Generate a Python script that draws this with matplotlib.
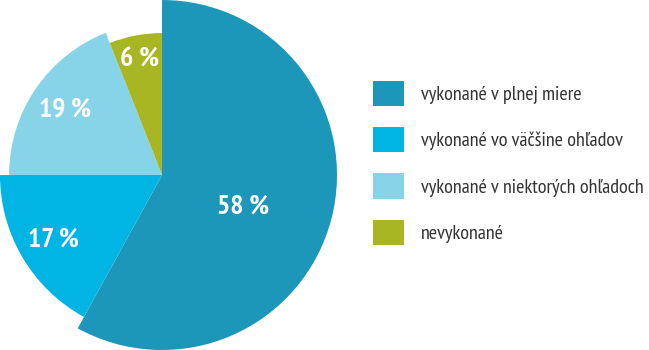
import matplotlib
matplotlib.use("Agg")
import matplotlib.pyplot as plt
import numpy as np

categories = ["vykonané v plnej miere", "vykonané vo väčšine ohľadov",
              "vykonané v niektorých ohľadoch", "nevykonané"]
values = [58, 17, 19, 6]
radii = [1.0, 0.926, 0.874, 0.811]
colors = ["#1c97b9", "#00b4e3", "#87d3e8", "#a9b623"]
label_dist = [0.5, 0.72, 0.67, 0.67]
label_angle_shift = [-7, 0, 0, 0]

plt.rcParams["font.family"] = ["PT Sans Narrow", "DejaVu Sans"]

fig = plt.figure(figsize=(6.49, 3.5), dpi=100)
ax = fig.add_axes([-13 / 649, 0, 350 / 649, 1])
wedges, _ = ax.pie(values, colors=colors, startangle=90, counterclock=False,
                   radius=1.0, wedgeprops=dict(linewidth=0))
for w, r in zip(wedges, radii):
    w.set_radius(r)
ax.set_xlim(-1, 1)
ax.set_ylim(-1, 1)
ax.set_aspect("equal")
ax.axis("off")

for w, v, d, s in zip(wedges, values, label_dist, label_angle_shift):
    ang = np.deg2rad((w.theta1 + w.theta2) / 2 + s)
    ax.text(d * np.cos(ang), d * np.sin(ang), f"{v} %", ha="center", va="center",
            color="white", fontsize=20, fontweight="bold")

fig.legend(wedges, categories, loc="upper left",
           bbox_to_anchor=(373 / 649, 1 - 81 / 350), bbox_transform=fig.transFigure,
           frameon=False, fontsize=14.5, handlelength=1.54, handleheight=1.54,
           labelspacing=1.05, handletextpad=0.85, borderpad=0, borderaxespad=0,
           labelcolor="#333333")

fig.savefig("out.png", dpi=100)
